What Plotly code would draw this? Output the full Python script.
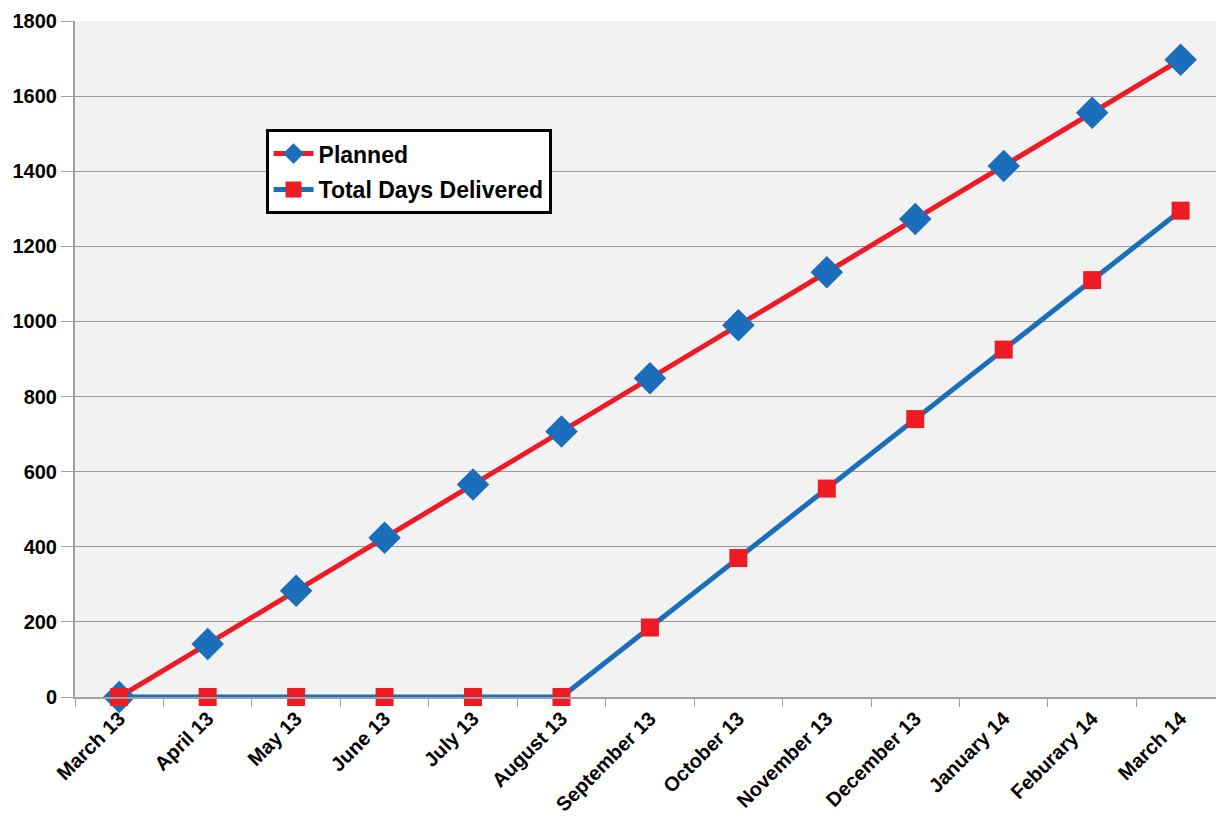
import plotly.graph_objects as go

months = ["March 13", "April 13", "May 13", "June 13", "July 13", "August 13",
          "September 13", "October 13", "November 13", "December 13",
          "January 14", "Feburary 14", "March 14"]
planned = [0, 141, 283, 424, 566, 707, 849, 990, 1131, 1273, 1414, 1556, 1697]
delivered = [0, 0, 0, 0, 0, 0, 185, 370, 555, 740, 925, 1110, 1295]

RED = "#ED1C24"
BLUE = "#1B6EBA"
FONT = "Liberation Sans, Arial, sans-serif"

fig = go.Figure()
fig.add_trace(go.Scatter(
    x=months, y=planned, name="Planned", mode="lines+markers",
    legendgroup="planned", cliponaxis=False,
    line=dict(color=RED, width=5),
    marker=dict(symbol="diamond", size=25, color=BLUE),
))
fig.add_trace(go.Scatter(
    x=months, y=delivered, name="Total Days Delivered", mode="lines+markers",
    legendgroup="delivered", cliponaxis=False,
    line=dict(color=BLUE, width=5),
    marker=dict(symbol="square", size=18, color=RED),
))

fig.update_layout(
    width=1216, height=822,
    margin=dict(l=75, r=0, t=21, b=125),
    paper_bgcolor="white",
    plot_bgcolor="#F2F2F2",
    font=dict(family=FONT, color="black"),
    showlegend=True,
    legend=dict(
        x=0.167, y=0.84, xanchor="left", yanchor="top",
        bgcolor="white", bordercolor="black", borderwidth=3,
        font=dict(family=FONT, size=23, weight="bold", color="black"),
        itemwidth=40, tracegroupgap=3,
    ),
)
fig.update_xaxes(
    type="category", range=[-0.5, 12.4],
    tickangle=-45, tickson="boundaries",
    ticks="outside", ticklen=8, tickcolor="#A0A0A0",
    showline=True, linecolor="#A0A0A0", linewidth=2,
    showgrid=False,
    tickfont=dict(family=FONT, size=20, weight="bold", color="black"),
)
fig.update_yaxes(
    range=[0, 1800], dtick=200,
    ticks="outside", ticklen=12, tickcolor="#A0A0A0",
    showline=True, linecolor="#A0A0A0", linewidth=2,
    showgrid=True, gridcolor="#9A9A9A", gridwidth=1,
    zeroline=False,
    tickfont=dict(family=FONT, size=20, weight="bold", color="black"),
)

fig.write_html("out.html")
